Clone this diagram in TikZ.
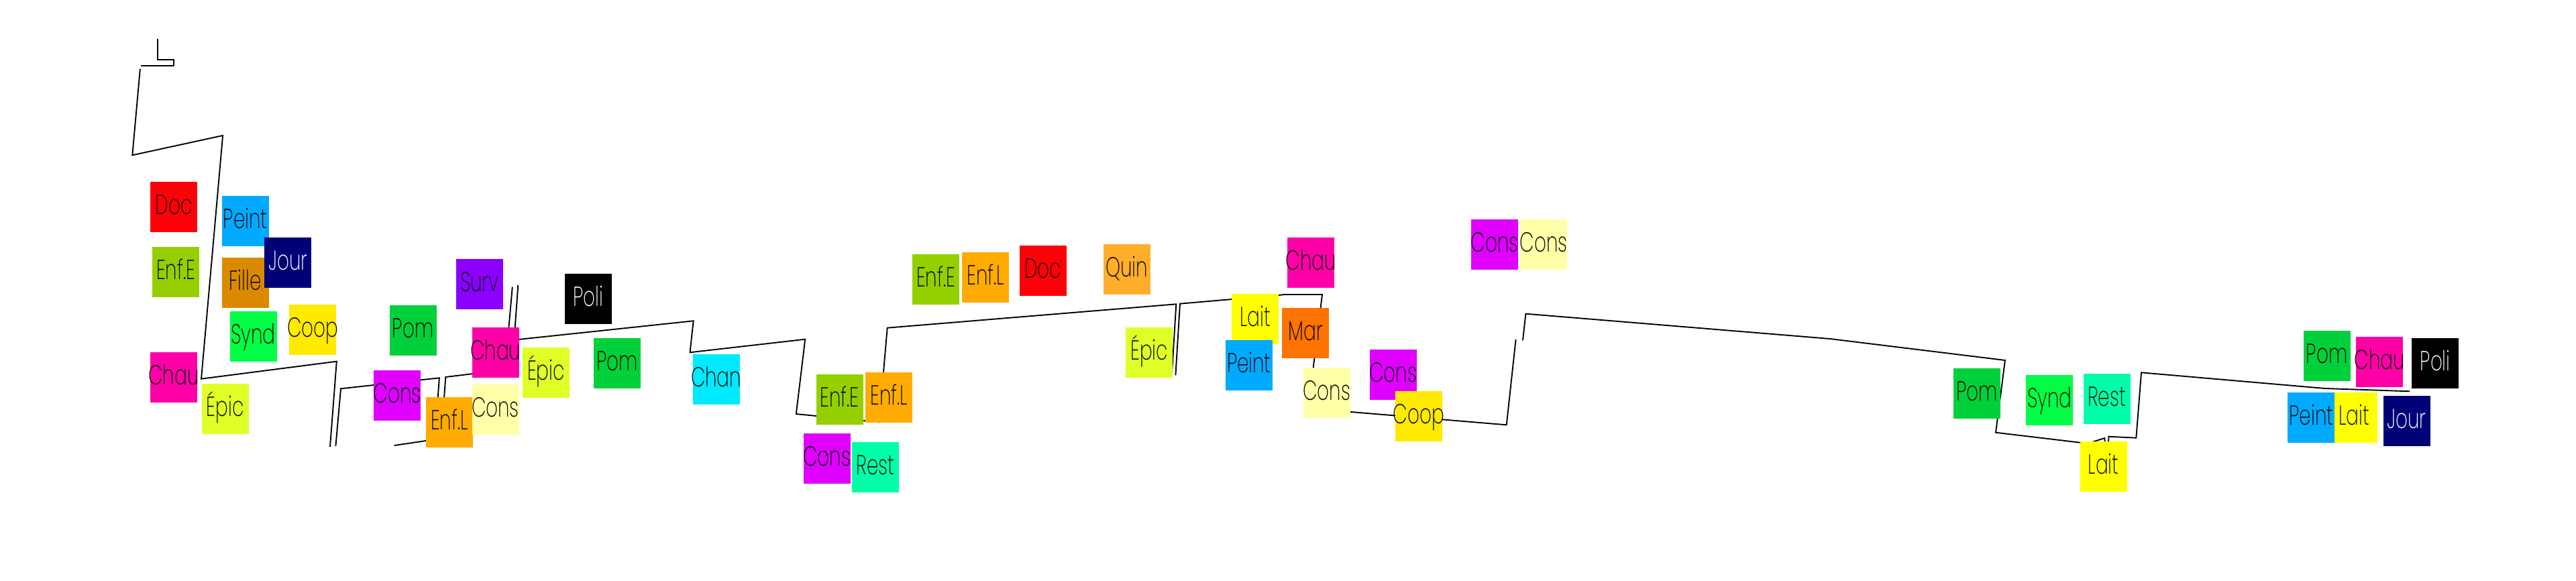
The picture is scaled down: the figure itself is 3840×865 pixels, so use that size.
\documentclass[tikz,border=0pt]{standalone}
\usepackage{fontspec}
\setmainfont{Poppins ExtraLight}[FakeStretch=0.68]
\definecolor{cDoc}{HTML}{FF0008}
\definecolor{cPeint}{HTML}{00AAFF}
\definecolor{cJour}{HTML}{000077}
\definecolor{cEnfE}{HTML}{94D000}
\definecolor{cFille}{HTML}{DB8A00}
\definecolor{cSynd}{HTML}{00FF44}
\definecolor{cCoop}{HTML}{FFEA00}
\definecolor{cPom}{HTML}{00D13B}
\definecolor{cChau}{HTML}{FF00A8}
\definecolor{cEpic}{HTML}{DFFF26}
\definecolor{cSurv}{HTML}{8C00FF}
\definecolor{cConsM}{HTML}{DF00FF}
\definecolor{cEnfL}{HTML}{FFAB00}
\definecolor{cConsP}{HTML}{FFFFA8}
\definecolor{cChan}{HTML}{00EAFF}
\definecolor{cRest}{HTML}{00FFA8}
\definecolor{cQuin}{HTML}{FFAE2B}
\definecolor{cLait}{HTML}{FFFF00}
\definecolor{cMar}{HTML}{FF7300}
\tikzset{
  boxnode/.style={anchor=north west,inner sep=0pt,minimum width=70pt,text height=48.5pt,text depth=26.5pt,font=\fontsize{41}{41}\selectfont,text=black},
  route/.style={draw=black,line width=1.9pt,line join=miter}
}
\newcommand{\bx}[6][black]{\node[boxnode,fill=#5,text=#1] (#2) at (#3,#4) {\hbox to 70pt{\hss #6\hss}};}
\begin{document}
\begin{tikzpicture}[x=1pt,y=-1pt]
\useasboundingbox (0,0) rectangle (3840,865);
\path
 (234.8,58.3) coordinate (a1) (234.8,89) coordinate (a2) (259.4,89) coordinate (a3) (259.4,98) coordinate (a4) (210.3,98) coordinate (a5)
 (208.9,102.7) coordinate (b1) (197.3,231.3) coordinate (b2) (332.1,202) coordinate (b3) (300,564.7) coordinate (b4) (501.8,538.7) coordinate (b5) (492,666) coordinate (b6)
 (500.4,665) coordinate (c1) (508,579.3) coordinate (c2) (654.9,563.3) coordinate (c3) (648,655) coordinate (c4) (587.5,664) coordinate (c5)
 (658,650) coordinate (d1) (664.3,562) coordinate (d2) (763.3,550) coordinate (d3) (772.3,424.7) coordinate (d4)
 (763.8,427.7) coordinate (e1) (756.7,507.7) coordinate (e2) (1033.7,478.3) coordinate (e3) (1028.5,525.3) coordinate (e4) (1200.2,505.7) coordinate (e5) (1186.8,617) coordinate (e6) (1310.5,629.3) coordinate (e7) (1322.7,488.7) coordinate (e8) (1753.3,453.3) coordinate (e9) (1747,555) coordinate (e10)
 (1752.4,559.3) coordinate (f1) (1759,452.7) coordinate (f2) (1906.5,440) coordinate (f3) (1914,439) coordinate (f4) (1971,439) coordinate (f5) (1957.7,547.3) coordinate (f6) (1990,612) coordinate (f7) (2245.7,633.3) coordinate (f8) (2259.6,506) coordinate (f9)
 (2270,507.3) coordinate (g1) (2274.4,467.7) coordinate (g2) (2728,505) coordinate (g3) (2988.9,537) coordinate (g5) (2975,644.7) coordinate (g6) (3112,661) coordinate (g7) (3137.3,653) coordinate (g8) (3139,672) coordinate (g9)
 (3142.7,672) coordinate (h1) (3143.3,650.7) coordinate (h2) (3184.3,652.7) coordinate (h3) (3192,555.3) coordinate (h4) (3465.9,579) coordinate (h5) (3592.2,583.3) coordinate (h6);
\draw[route] (a1)--(a2)--(a3)--(a4)--(a5);
\draw[route] (b1)--(b2)--(b3)--(b4)--(b5)--(b6);
\draw[route] (c1)--(c2)--(c3)--(c4)--(c5);
\draw[route] (d1)--(d2)--(d3)--(d4);
\draw[route] (e1)--(e2)--(e3)--(e4)--(e5)--(e6)--(e7)--(e8)--(e9)--(e10);
\draw[route] (f1)--(f2)--(f3)--(f4)--(f5)--(f6)--(f7)--(f8)--(f9);
\draw[route] (g1)--(g2)--(g3)--(g5)--(g6)--(g7)--(g8)--(g9);
\draw[route] (h1)--(h2)--(h3)--(h4)--(h5)--(h6);
\bx{n1}{223.7}{271}{cDoc}{Doc}
\bx{n2}{330.4}{292}{cPeint}{Peint}
\bx{n3}{226.8}{367.5}{cEnfE}{Enf.E}
\bx{n4}{330.4}{383.5}{cFille}{Fille}
\bx[white]{n5}{394.2}{354}{cJour}{Jour}
\bx{n6}{342.4}{464}{cSynd}{Synd}
\bx{n7}{431}{454}{cCoop}{Coop}
\bx{n8}{580.4}{454.5}{cPom}{Pom}
\bx{n9}{223.7}{524.7}{cChau}{Chau}
\bx{n10}{300.4}{571.3}{cEpic}{Épic}
\bx{n11}{679.5}{386}{cSurv}{Surv}
\bx{n12}{703.6}{487.7}{cChau}{Chau}
\bx{n13}{778.6}{518}{cEpic}{Épic}
\bx{n14}{556.7}{551.5}{cConsM}{Cons}
\bx{n15}{634.8}{592}{cEnfL}{Enf.L}
\bx{n16}{703.3}{572.7}{cConsP}{Cons}
\bx[white]{n17}{841.4}{407.3}{black}{Poli}
\bx{n18}{885}{504}{cPom}{Pom}
\bx{n19}{1032.3}{527.7}{cChan}{Chan}
\bx{n20}{1216.5}{558}{cEnfE}{Enf.E}
\bx{n21}{1290.2}{554.7}{cEnfL}{Enf.L}
\bx{n22}{1197.4}{646}{cConsM}{Cons}
\bx{n23}{1270}{658.7}{cRest}{Rest}
\bx{n24}{1360}{379}{cEnfE}{Enf.E}
\bx{n25}{1434}{375.7}{cEnfL}{Enf.L}
\bx{n26}{1519.3}{366}{cDoc}{Doc}
\bx{n27}{1644.5}{364}{cQuin}{Quin}
\bx{n28}{1678}{488}{cEpic}{Épic}
\bx{n29}{1918.9}{353.7}{cChau}{Chau}
\bx{n30}{1835.8}{437.3}{cLait}{Lait}
\bx{n31}{1911.2}{458.3}{cMar}{Mar}
\bx{n32}{1826.6}{506.3}{cPeint}{Peint}
\bx{n33}{1942.5}{547.3}{cConsP}{Cons}
\bx{n34}{2041.4}{520.7}{cConsM}{Cons}
\bx{n35}{2079.6}{583}{cCoop}{Coop}
\bx{n36}{2193}{327}{cConsM}{Cons}
\bx{n37}{2266}{327}{cConsP}{Cons}
\bx{n38}{2911.6}{549}{cPom}{Pom}
\bx{n39}{3020}{558.3}{cSynd}{Synd}
\bx{n40}{3105.4}{557}{cRest}{Rest}
\bx{n41}{3100.4}{658}{cLait}{Lait}
\bx{n42}{3433.4}{492.7}{cPom}{Pom}
\bx{n43}{3511.8}{501.7}{cChau}{Chau}
\bx[white]{n44}{3595}{504}{black}{Poli}
\bx{n45}{3474}{584.7}{cLait}{Lait}
\bx{n46}{3410.2}{584.7}{cPeint}{Peint}
\bx[white]{n47}{3552.3}{589.3}{cJour}{Jour}
\end{tikzpicture}
\end{document}
